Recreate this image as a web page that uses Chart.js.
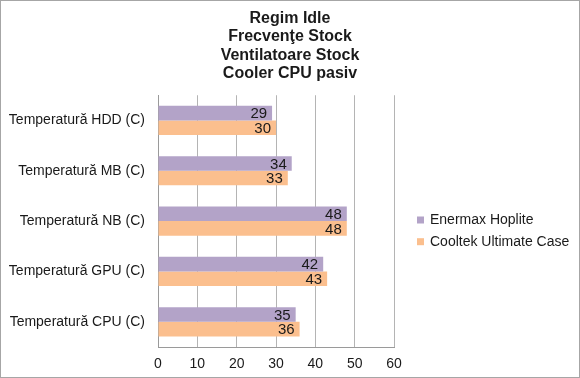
<!DOCTYPE html>
<html>
<head>
<meta charset="utf-8">
<script src="https://cdn.jsdelivr.net/npm/chart.js@4"></script>
<style>
  html, body { margin: 0; padding: 0; background: #fff; }
  #wrap { width: 578px; height: 376px; border: 1px solid #a6a6a6; }
</style>
</head>
<body>
<div id="wrap"><canvas id="temp-chart" width="578" height="376"></canvas></div>
<script>
// Chart data
const categories = [
    'Temperatură HDD (C)', 'Temperatură MB (C)', 'Temperatură NB (C)',
    'Temperatură GPU (C)', 'Temperatură CPU (C)'
];
const enermaxHoplite = [29, 34, 48, 42, 35];
const cooltekUltimate = [30, 33, 48, 43, 36];
const xTicks = [0, 10, 20, 30, 40, 50, 60];
const titleLines = ['Regim Idle', 'Frecvenţe Stock', 'Ventilatoare Stock', 'Cooler CPU pasiv'];

const FONT = 'Arial, "Liberation Sans", sans-serif';

// draws the value at the end of each bar
const barValues = {
    id: 'barValues',
    afterDatasetsDraw(chart) {
        const ctx = chart.ctx;
        ctx.save();
        ctx.font = '15px ' + FONT;
        ctx.fillStyle = '#1a1a1a';
        ctx.textAlign = 'right';
        ctx.textBaseline = 'middle';
        chart.data.datasets.forEach((ds, i) => {
            chart.getDatasetMeta(i).data.forEach((bar, j) => {
                ctx.fillText(ds.data[j], bar.x - 5, bar.y + 1);
            });
        });
        ctx.restore();
    }
};

// legend on the right, square markers
const sideLegend = {
    id: 'sideLegend',
    afterDraw(chart) {
        const ctx = chart.ctx;
        const x = chart.chartArea.right + 23;
        let y = 219;
        ctx.save();
        ctx.font = '14px ' + FONT;
        ctx.textBaseline = 'middle';
        ctx.textAlign = 'left';
        chart.data.datasets.forEach(ds => {
            ctx.fillStyle = ds.backgroundColor;
            ctx.fillRect(x, y - 3.5, 7, 7);
            ctx.fillStyle = '#1a1a1a';
            ctx.fillText(ds.label, x + 13, y + 0.5);
            y += 21.7;
        });
        ctx.restore();
    }
};

const chartConfig = {
    type: 'bar',
    data: {
        labels: categories,
        datasets: [
            {
                label: 'Enermax Hoplite',
                backgroundColor: '#b3a3c8',
                data: enermaxHoplite
            },
            {
                label: 'Cooltek Ultimate Case',
                backgroundColor: '#fbbf8e',
                data: cooltekUltimate
            }
        ]
    },
    options: {
        indexAxis: 'y',
        responsive: false,
        animation: false,
        categoryPercentage: 0.58,
        barPercentage: 1,
        layout: { padding: 0 },
        scales: {
            x: {
                min: 0,
                max: 60,
                afterBuildTicks: (scale) => { scale.ticks = xTicks.map(v => ({ value: v })); },
                afterFit: (scale) => { scale.height = 30; },
                grid: { color: '#b4b4b4', drawTicks: false },
                border: { color: '#9a9a9a' },
                ticks: { color: '#1a1a1a', padding: 9, font: { family: FONT, size: 14 } }
            },
            y: {
                afterFit: (scale) => { scale.width = 157; },
                grid: { display: false, drawTicks: false },
                border: { color: '#9a9a9a' },
                ticks: { color: '#1a1a1a', padding: 13, font: { family: FONT, size: 14 } }
            },
            // empty axis on the right that reserves room for the legend
            legendRoom: {
                type: 'linear',
                position: 'right',
                afterFit: (scale) => { scale.width = 185; },
                grid: { display: false, drawTicks: false },
                border: { display: false },
                ticks: { display: false }
            }
        },
        plugins: {
            title: {
                display: true,
                text: titleLines,
                color: '#1a1a1a',
                font: { family: FONT, size: 16, weight: 'bold', lineHeight: 1.16 },
                padding: { top: 8, bottom: 12 }
            },
            legend: { display: false },
            tooltip: { enabled: false }
        }
    },
    plugins: [barValues, sideLegend]
};

const chartCanvas = document.getElementById('temp-chart').getContext('2d');
const tempChart = new Chart(chartCanvas, chartConfig);
</script>
</body>
</html>
